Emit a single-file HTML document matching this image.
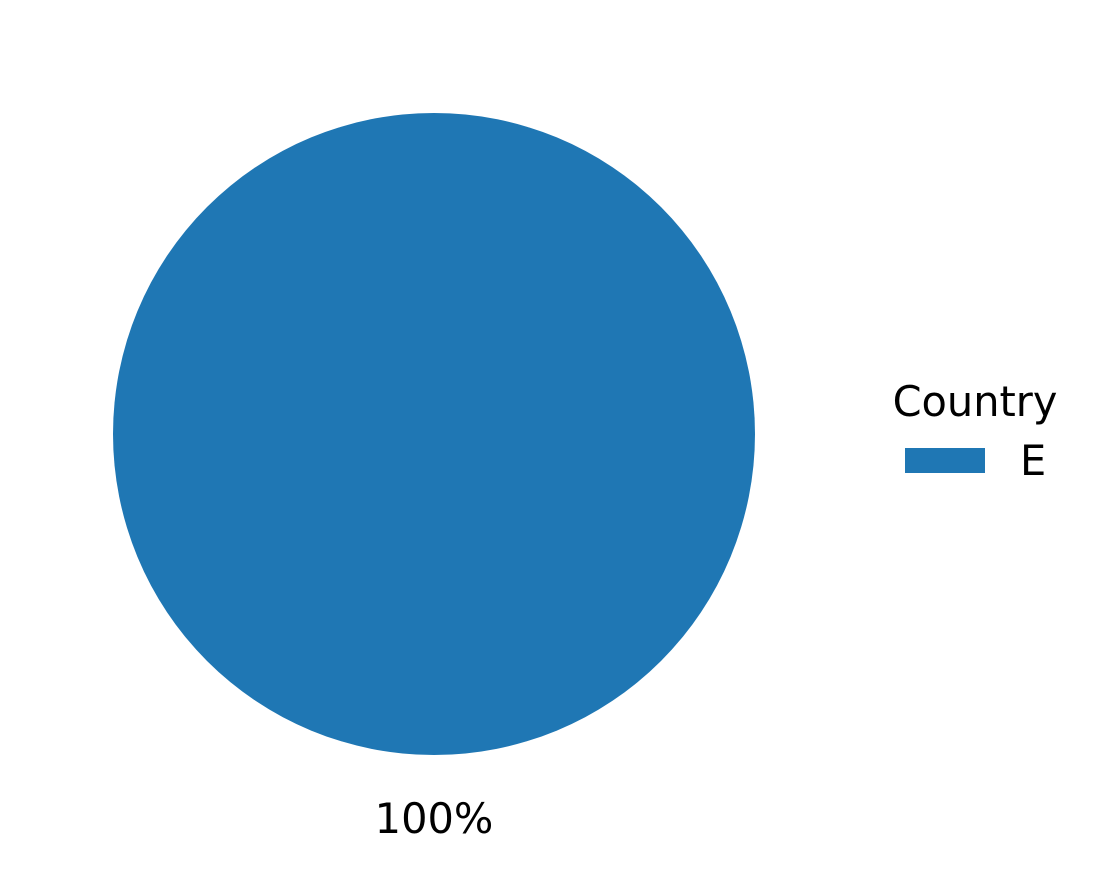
<!DOCTYPE html>
<html><head><meta charset="utf-8"><style>
body{margin:0;background:#fff;width:1104px;height:872px;overflow:hidden}
svg text{font-family:"DejaVu Sans","Liberation Sans",sans-serif}
</style></head><body>
<svg id="chart" width="1104" height="872">
<g id="slices"></g>
<g>
<text x="975" y="416" font-size="41.5" text-anchor="middle">Country</text>
<g id="legend-items"></g>
</g>
</svg>
<script>
const categories=["E"];
const values=[100];
const colors=["#1f77b4","#ff7f0e","#2ca02c","#d62728","#9467bd"];
const NS="http://www.w3.org/2000/svg";
const cx=434,cy=434,r=321;
const total=values.reduce((a,b)=>a+b,0);
const g=document.getElementById('slices');
const lg=document.getElementById('legend-items');
let a0=90;
values.forEach((v,i)=>{
  const frac=v/total, a1=a0+frac*360;
  let el;
  if(frac>=0.9999){el=document.createElementNS(NS,'circle');el.setAttribute('cx',cx);el.setAttribute('cy',cy);el.setAttribute('r',r);}
  else{
    const p=a=>[cx+r*Math.cos(a*Math.PI/180),cy-r*Math.sin(a*Math.PI/180)];
    const [x0,y0]=p(a0),[x1,y1]=p(a1);
    el=document.createElementNS(NS,'path');
    el.setAttribute('d',`M${cx},${cy}L${x0},${y0}A${r},${r} 0 ${frac>0.5?1:0} 0 ${x1},${y1}Z`);
  }
  el.setAttribute('fill',colors[i%colors.length]);
  
  
  g.appendChild(el);
  const mid=(a0+a1)/2*Math.PI/180;
  const t=document.createElementNS(NS,'text');
  t.setAttribute('x',cx+1.2*r*Math.cos(mid));
  t.setAttribute('y',cy-1.2*r*Math.sin(mid)+14);
  t.setAttribute('font-size','41.5');t.setAttribute('text-anchor','middle');
  t.textContent=Math.round(frac*100)+'%';
  
  
  g.appendChild(t);
  const ly=448+i*58;
  const rc=document.createElementNS(NS,'rect');
  rc.setAttribute('x',905);rc.setAttribute('y',ly);rc.setAttribute('width',80);rc.setAttribute('height',25);
  rc.setAttribute('fill',colors[i%colors.length]);
  
  
  lg.appendChild(rc);
  const lt=document.createElementNS(NS,'text');
  lt.setAttribute('x',1020);lt.setAttribute('y',ly+27);lt.setAttribute('font-size','41.5');
  lt.textContent=categories[i];
  
  
  lg.appendChild(lt);
  a0=a1;
});
</script>
</body></html>
